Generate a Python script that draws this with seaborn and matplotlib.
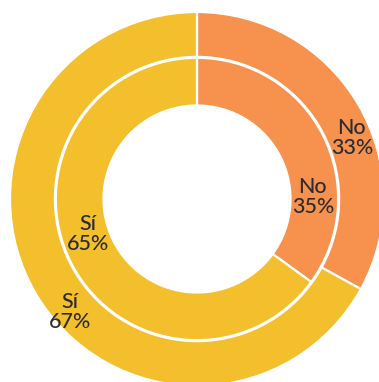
import matplotlib
matplotlib.use("Agg")
import matplotlib.pyplot as plt
import seaborn as sns
import numpy as np

# Survey answers: outer ring and inner ring
categories = ["No", "Sí"]
outer_values = [33, 67]
inner_values = [35, 65]

# Label anchors (angle in degrees, radius in data units) for each ring
outer_label_pos = [(21.5, 0.89), (221.7, 0.91)]
inner_label_pos = [(1.0, 0.62), (197.8, 0.61)]

sns.set_theme(style="white")
plt.rcParams["font.family"] = ["Lato", "DejaVu Sans"]

colors = ["#F6914E", "#F4BF2C"]
text_color = "#2B2B30"

W, H = 379, 382
fig = plt.figure(figsize=(W / 100, H / 100), dpi=100)
ax = fig.add_axes([0, 0, 1, 1])

wedge_style = dict(edgecolor="white", linewidth=1.6)

ax.pie(outer_values, radius=1.0, colors=colors, startangle=90,
       counterclock=False, wedgeprops=dict(width=0.24, **wedge_style))
ax.pie(inner_values, radius=0.755, colors=colors, startangle=90,
       counterclock=False, wedgeprops=dict(width=0.255, **wedge_style))


def put_labels(values, positions):
    for cat, val, (ang, r) in zip(categories, values, positions):
        t = np.deg2rad(ang)
        ax.text(r * np.cos(t), r * np.sin(t), f"{cat}\n{val}%",
                ha="center", va="center", fontsize=15.5, color=text_color,
                linespacing=1.0, fontweight="medium")


put_labels(outer_values, outer_label_pos)
put_labels(inner_values, inner_label_pos)

# Centre at (197, 199) px, outer radius 187 px
cx, cy, R = 197, 199, 187
ax.set_xlim(-cx / R, (W - cx) / R)
ax.set_ylim(-(H - cy) / R, cy / R)
ax.set_aspect("auto")
ax.axis("off")

fig.savefig("out.png", dpi=100)
